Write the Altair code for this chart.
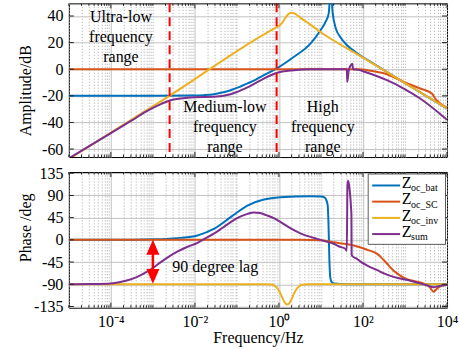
import json
import altair as alt
import pandas as pd

# ---------------- data: log10(frequency / Hz) and values ----------------
# Amplitude (dB)
amp_bat_e = [-5, -3, -2, -1.8, -1.55, -1.35, -1.15, -0.95, -0.75, -0.55, -0.36, -0.06, 0.35, 0.75, 0.99, 1.1, 1.185, 1.23, 1.28, 1.35, 1.46, 1.62, 1.86, 2.2, 3.0, 4.0]
amp_bat_v = [-20, -20, -19.8, -19.5, -18.8, -17.5, -15.75, -13.5, -10.7, -7.8, -4.5, 0.5, 9.2, 19.3, 29.3, 35, 42, 60, 42, 31, 24.2, 18, 12, 5.2, -10.4, -29.6]

amp_sc_e = [-5, 1.9, 2.0, 2.18, 2.57, 2.97, 3.36, 3.64, 3.72, 4.0]
amp_sc_v = [0, 0, -0.2, -1.2, -3.75, -9.5, -14.5, -18.3, -22, -28.8]

amp_inv_e = [-5, -2.606, -0.06, 0.0, 0.08, 0.15, 0.22, 0.3, 0.38, 0.5, 0.75, 0.988, 2.0, 3.0, 4.0]
amp_inv_v = [-67.5, -20, 31.5, 32.5, 35, 38.5, 41.3, 42.5, 41.8, 39, 33.5, 28, 8.7, -10.4, -29.5]

amp_sum_e = [-5, -4, -3.5, -3.2, -3.0, -2.8, -2.6, -2.34, -2.0, -1.55, -1.15, -0.75, -0.36, -0.06, 0.35, 0.75, 1.615, 1.625, 1.66, 1.70, 1.745, 1.765, 1.9, 2.0, 2.57, 2.97, 3.36, 4.0]
amp_sum_v = [-67, -48, -38.5, -32.5, -29, -26, -23.5, -22, -21, -20.7, -18.75, -13.7, -7, -2.8, -0.75, 0, 0, -9.5, -1, 2.5, 4.2, 0, -0.5, -1.5, -8.25, -14.5, -22, -38]

# Phase (deg)
ph_bat_e = [-5, -3.5, -3, -2.6, -2.34, -1.94, -1.55, -1.15, -0.75, -0.36, 0.03, 0.75, 1.0, 1.08, 1.12, 1.16, 1.18, 1.2, 1.22, 1.25, 1.32, 1.6, 4.0]
ph_bat_v = [0, 0.3, 1, 2.5, 4, 9, 22, 46, 69.5, 81.6, 86.3, 88.3, 88, 86, 82, 70, 30, -40, -75, -85, -88.5, -89.8, -90]

ph_sc_e = [-5, 0.5, 1.0, 1.3, 1.7, 1.78, 2.1, 2.33, 2.45, 2.57, 2.7, 2.81, 3.0, 3.13, 3.44, 3.58, 3.68, 3.76, 3.86, 4.0]
ph_sc_v = [0, 0, -1, -5, -10, -11.5, -20, -28, -37, -48, -60, -68, -78, -82, -88.5, -95, -105, -99, -93, -91]

ph_inv_e = [-5, -0.3, -0.15, -0.08, -0.04, 0.0, 0.04, 0.08, 0.12, 0.16, 0.197, 0.235, 0.275, 0.315, 0.355, 0.395, 0.435, 0.475, 0.545, 0.7, 4.0]
ph_inv_v = [-90, -90, -91, -94.5, -98, -103, -109.5, -117.5, -124.5, -129.5, -131, -129.5, -124.5, -117.5, -109.5, -103, -98, -94.5, -91, -90, -90]

ph_sum_e = [-5, -4.5, -4, -3.8, -3.6, -3.4, -3.21, -3.0, -2.81, -2.6, -2.42, -2.2, -1.94, -1.75, -1.55, -1.35, -1.15, -0.95, -0.75, -0.6, -0.45, -0.3, -0.1, 0.04, 0.25, 0.44, 0.6, 0.75, 0.91, 1.1, 1.3, 1.45, 1.58, 1.615, 1.63, 1.645, 1.66, 1.70, 1.715, 1.725, 1.73, 1.76, 1.85, 1.94, 2.1, 2.33, 2.5, 2.73, 3.13, 3.35, 3.52, 3.68, 3.8, 4.0]
ph_sum_v = [-90, -89.5, -88.3, -86, -82, -76, -68, -57, -45, -33, -24, -15, -6, 3, 12.5, 24, 36, 46, 52.6, 55.5, 54.5, 50, 43, 36, 25, 16, 10, 6, 2, -3, -8, -14, -18, -22, 110, 120, 115, 85, 66, 50, -30, -34, -38, -44, -52, -61, -68, -75, -83, -88, -92, -96, -94, -91]

series_names = ["bat", "SC", "inv", "sum"]
series_subs = ["oc_bat", "oc_SC", "oc_inv", "sum"]
series_colors = ["#0072BD", "#D95319", "#EDB120", "#7E2F8E"]

# axis ticks
x_major = [1e-4, 1e-2, 1.0, 1e2, 1e4]
x_labels = ["10\u207b\u2074", "10\u207b\u00b2", "10\u2070", "10\u00b2", "10\u2074"]
amp_ticks = [-60, -40, -20, 0, 20, 40]
ph_ticks = [-135, -90, -45, 0, 45, 90, 135]

# annotations
dash_f = [2.5e-3, 0.88]
ann1_text = ["Ultra-low", "frequency", "range", "Medium-low", "frequency", "range", "High", "frequency", "range"]
ann1_e = [-3.76, -3.76, -3.76, -1.285, -1.285, -1.285, 1.043, 1.043, 1.043]
ann1_v = [39.4, 24.3, 9.3, -28.4, -43.4, -58.5, -28.4, -43.4, -58.5]
lag_text = ["90 degree lag"]
lag_e = [-1.518]
lag_v = [-54.8]
arrow_f = [1e-3]
arrow_from = [-15]
arrow_to = [-74]

# ---------------- helpers ----------------
FONT = "Liberation Serif, Times New Roman, serif"
W, H1, H2 = 379, 154, 136
xs = alt.Scale(type="log", domain=[1e-5, 1e4], nice=False)
ys1 = alt.Scale(domain=[-66, 49.5], nice=False, zero=False)
ys2 = alt.Scale(domain=[-137.5, 137.5], nice=False, zero=False)

x_grid = sorted(set(x_major + [float(f"{k}e{e}") for e in range(-5, 4) for k in range(1, 10)]))
x_minor = [v for v in x_grid if v not in x_major]
major_test = "indexof(" + json.dumps(x_major[:-1]) + ", datum.value) >= 0"
lab_expr = "''"
for v, t in zip(reversed(x_major), reversed(x_labels)):
    lab_expr = f"datum.value == {json.dumps(v)} ? '{t}' : ({lab_expr})"


def x_axis(show_labels):
    kw = dict(values=x_grid, grid=True, ticks=False, domain=False,
              gridDash={"condition": {"test": major_test, "value": []}, "value": [1, 2]},
              gridColor={"condition": {"test": major_test, "value": "#c2c2c2"}, "value": "#a8a8a8"},
              gridWidth=1, labelFlush=False, labelOverlap=False)
    if show_labels:
        kw.update(labels=True, labelExpr=lab_expr, labelPadding=6,
                  title="Frequency/Hz", titleY=22, titleBaseline="top")
    else:
        kw.update(labels=False, title=None)
    return alt.Axis(**kw)


def y_axis(vals, title, ty):
    return alt.Axis(values=vals, grid=True, gridColor="#c2c2c2", ticks=False, domain=False,
                    labelExpr="'' + datum.value", labelPadding=6, title=title,
                    titleX=-35, titleY=ty, titleBaseline="bottom")


class Panel:
    def __init__(self, ys, xa, ya):
        self.ys, self.xa, self.ya = ys, xa, ya

    def X(self):
        return alt.X("f:Q", scale=xs, axis=self.xa)

    def Y(self):
        return alt.Y("v:Q", scale=self.ys, axis=self.ya)


def curve(p, es, vs, color):
    df = pd.DataFrame({"f": [10.0 ** e for e in es], "v": vs})
    return alt.Chart(df).mark_line(color=color, strokeWidth=2, clip=True, interpolate="monotone").encode(
        x=p.X(), y=p.Y())


def tick_layers(p, H, yvals):
    L1, L2 = 5, 2.5
    out = []
    for vals, L in ((x_major, L1), (x_minor, L2)):
        d = pd.DataFrame({"f": vals})
        base = alt.Chart(d).mark_rule(color="#222222", strokeWidth=1)
        out.append(base.encode(x=p.X(), y=alt.value(0), y2=alt.value(L)))
        out.append(base.encode(x=p.X(), y=alt.value(H - L), y2=alt.value(H)))
    d = pd.DataFrame({"v": yvals})
    base = alt.Chart(d).mark_rule(color="#222222", strokeWidth=1)
    out.append(base.encode(y=p.Y(), x=alt.value(0), x2=alt.value(L1)))
    out.append(base.encode(y=p.Y(), x=alt.value(W - L1), x2=alt.value(W)))
    return out


# ---------------- top panel: amplitude ----------------
p1 = Panel(ys1, x_axis(False), y_axis(amp_ticks, "Amplitude/dB", 87))

ann1 = alt.Chart(pd.DataFrame({"f": [10.0 ** e for e in ann1_e], "v": ann1_v, "t": ann1_text})).mark_text(
    font=FONT, fontSize=16, color="black", align="center", baseline="middle").encode(
    x=p1.X(), y=p1.Y(), text="t:N")

dash1 = alt.Chart(pd.DataFrame({"f": dash_f})).mark_rule(color="#ff0000", strokeWidth=2, strokeDash=[9, 5]).encode(
    x=p1.X())

top_layers = [ann1]
for es, vs, c in ((amp_bat_e, amp_bat_v, series_colors[0]), (amp_sc_e, amp_sc_v, series_colors[1]),
                  (amp_inv_e, amp_inv_v, series_colors[2]), (amp_sum_e, amp_sum_v, series_colors[3])):
    top_layers.append(curve(p1, es, vs, c))
top_layers.append(dash1)
top_layers += tick_layers(p1, H1, amp_ticks)
top = alt.layer(*top_layers).properties(width=W, height=H1)

# ---------------- bottom panel: phase ----------------
p2 = Panel(ys2, x_axis(True), y_axis(ph_ticks, "Phase /deg", 55.5))

bot_layers = []
for es, vs, c in ((ph_bat_e, ph_bat_v, series_colors[0]), (ph_sc_e, ph_sc_v, series_colors[1]),
                  (ph_inv_e, ph_inv_v, series_colors[2]), (ph_sum_e, ph_sum_v, series_colors[3])):
    bot_layers.append(curve(p2, es, vs, c))

arr_df = pd.DataFrame({"f": arrow_f, "v": arrow_from, "v2": arrow_to})
bot_layers.append(alt.Chart(arr_df).mark_rule(color="#ff0000", strokeWidth=2.5).encode(
    x=p2.X(), y=p2.Y(), y2="v2:Q"))
bot_layers.append(alt.Chart(pd.DataFrame({"f": arrow_f, "v": arrow_from})).mark_point(
    shape="M0,-1L0.87,1L-0.87,1Z", filled=True, color="#ff0000", opacity=1, size=225).encode(
    x=p2.X(), y=p2.Y()))
bot_layers.append(alt.Chart(pd.DataFrame({"f": arrow_f, "v": arrow_to})).mark_point(
    shape="M0,1L0.87,-1L-0.87,-1Z", filled=True, color="#ff0000", opacity=1, size=225).encode(
    x=p2.X(), y=p2.Y()))

bot_layers.append(alt.Chart(pd.DataFrame({"f": [10.0 ** e for e in lag_e], "v": lag_v, "t": lag_text})).mark_text(
    font=FONT, fontSize=16, color="black", align="center", baseline="middle").encode(
    x=p2.X(), y=p2.Y(), text="t:N"))

bot_layers += tick_layers(p2, H2, ph_ticks)

# legend
one = pd.DataFrame({"a": [0]})
bot_layers.append(alt.Chart(one).mark_rect(fill="white", stroke="#333333", strokeWidth=0.8).encode(
    x=alt.value(300), x2=alt.value(377.5), y=alt.value(2), y2=alt.value(72.5)))
row_y = [13.5, 29.7, 46, 62.2]
for i, (sub, c) in enumerate(zip(series_subs, series_colors)):
    ry = row_y[i]
    bot_layers.append(alt.Chart(one).mark_rule(color=c, strokeWidth=2).encode(
        x=alt.value(304), x2=alt.value(332), y=alt.value(ry)))
    bot_layers.append(alt.Chart(one).mark_text(font=FONT, fontSize=16, color="black", align="left",
                                               baseline="alphabetic").encode(
        x=alt.value(333.5), y=alt.value(ry + 2.7), text=alt.value("Z")))
    bot_layers.append(alt.Chart(one).mark_text(font=FONT, fontSize=10, color="black", align="left",
                                               baseline="alphabetic").encode(
        x=alt.value(343), y=alt.value(ry + 6), text=alt.value(sub)))

bottom = alt.layer(*bot_layers).properties(width=W, height=H2)

chart = alt.vconcat(top, bottom, spacing=5).properties(
    padding={"left": 17, "top": 1, "right": 0, "bottom": 0}
).configure(background="white").configure_view(
    stroke="black", strokeWidth=1
).configure_axis(
    labelFont=FONT, labelFontSize=16, labelColor="black",
    titleFont=FONT, titleFontSize=16, titleFontWeight="normal", titleColor="black"
)

chart.save("out.html", embed_options={"renderer": "svg", "actions": False})
